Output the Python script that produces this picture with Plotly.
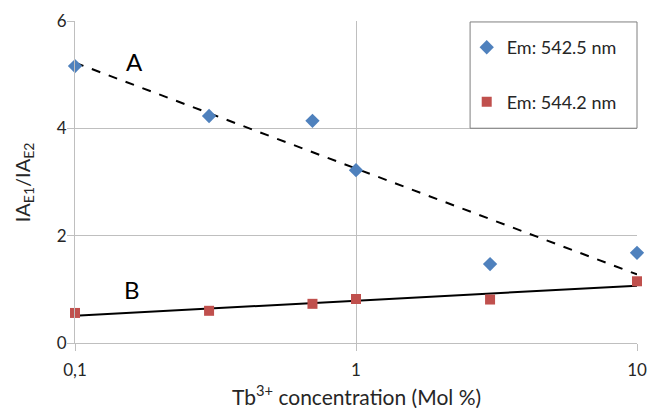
import numpy as np
import plotly.graph_objects as go

conc = [0.1, 0.3, 0.7, 1, 3, 10]
em_542 = [5.16, 4.23, 4.14, 3.22, 1.47, 1.68]
em_544 = [0.56, 0.60, 0.73, 0.82, 0.81, 1.15]
x_ticks = [0.1, 1, 10]
x_ticktext = ["0,1", "1", "10"]

FONT = "Lato"
TXT = "#262626"

def log_fit(x, y):
    lx = np.log10(np.array(x, dtype=float))
    b, a = np.polyfit(lx, np.array(y, dtype=float), 1)
    xs = np.array([min(x), max(x)], dtype=float)
    return xs, a + b * np.log10(xs)

xa, ya = log_fit(conc, em_542)
xb, yb = log_fit(conc, em_544)

fig = go.Figure()
fig.add_trace(go.Scatter(x=xa, y=ya, mode="lines", line=dict(color="black", width=2, dash="dash"),
                         showlegend=False, hoverinfo="skip"))
fig.add_trace(go.Scatter(x=xb, y=yb, mode="lines", line=dict(color="black", width=2),
                         showlegend=False, hoverinfo="skip"))
fig.add_trace(go.Scatter(x=conc, y=em_542, mode="markers", name="Em: 542.5 nm",
                         marker=dict(symbol="diamond", size=11, color="#4F81BD"),
                         legendgroup="a", cliponaxis=False))
fig.add_trace(go.Scatter(x=conc, y=em_544, mode="markers", name="Em: 544.2 nm",
                         marker=dict(symbol="square", size=10, color="#C0504D"),
                         legendgroup="b", cliponaxis=False))

fig.add_annotation(x=np.log10(0.163), y=5.24, text="A", showarrow=False,
                   xanchor="center", yanchor="middle",
                   font=dict(size=24, color="black", family=FONT))
fig.add_annotation(x=np.log10(0.16), y=0.99, text="B", showarrow=False,
                   xanchor="center", yanchor="middle",
                   font=dict(size=24, color="black", family=FONT))

# axis titles
fig.add_annotation(xref="paper", yref="paper", x=-0.092, y=0.5, textangle=-90,
                   xanchor="center", yanchor="middle",
                   text="IA<sub>E1</sub>/IA<sub>E2</sub>", showarrow=False,
                   font=dict(size=20, color=TXT, family=FONT))
fig.add_annotation(xref="paper", yref="paper", x=0.5, y=-0.21,
                   xanchor="center", yanchor="bottom",
                   text="Tb<sup>3+</sup> concentration (Mol %)", showarrow=False,
                   font=dict(size=21, color=TXT, family=FONT))

# legend box
fig.add_shape(type="rect", xref="paper", yref="paper", x0=0.703, x1=1.0, y0=0.667, y1=0.997,
              line=dict(color="#7f7f7f", width=1), fillcolor="rgba(0,0,0,0)")

fig.update_layout(
    width=650, height=408,
    margin=dict(l=75, r=13, t=21, b=65),
    paper_bgcolor="white", plot_bgcolor="white",
    font=dict(family=FONT, size=17, color=TXT),
    legend=dict(x=0.697, y=0.975, xanchor="left", yanchor="top",
                bgcolor="rgba(0,0,0,0)", borderwidth=0,
                font=dict(size=18, family=FONT, color=TXT),
                traceorder="grouped", tracegroupgap=28),
    xaxis=dict(type="log", range=[-1, 1], tickvals=x_ticks, ticktext=x_ticktext,
               showgrid=True, gridcolor="#BFBFBF", gridwidth=1,
               showline=True, linecolor="#BFBFBF", linewidth=1,
               ticks="outside", ticklen=7, tickcolor="#BFBFBF",
               zeroline=False, automargin=False, ticklabelstandoff=5,
               tickfont=dict(size=17, family=FONT, color=TXT)),
    yaxis=dict(range=[0, 6], dtick=2, tick0=0,
               showgrid=True, gridcolor="#BFBFBF", gridwidth=1,
               showline=True, linecolor="#BFBFBF", linewidth=1,
               ticks="outside", ticklen=7, tickcolor="#BFBFBF",
               zeroline=False, automargin=False, ticklabelstandoff=-3,
               tickfont=dict(size=17, family=FONT, color=TXT)),
)

fig.write_html("out.html", config={"displayModeBar": False},
               post_script="document.body.style.margin='0';document.body.style.overflow='hidden';")
